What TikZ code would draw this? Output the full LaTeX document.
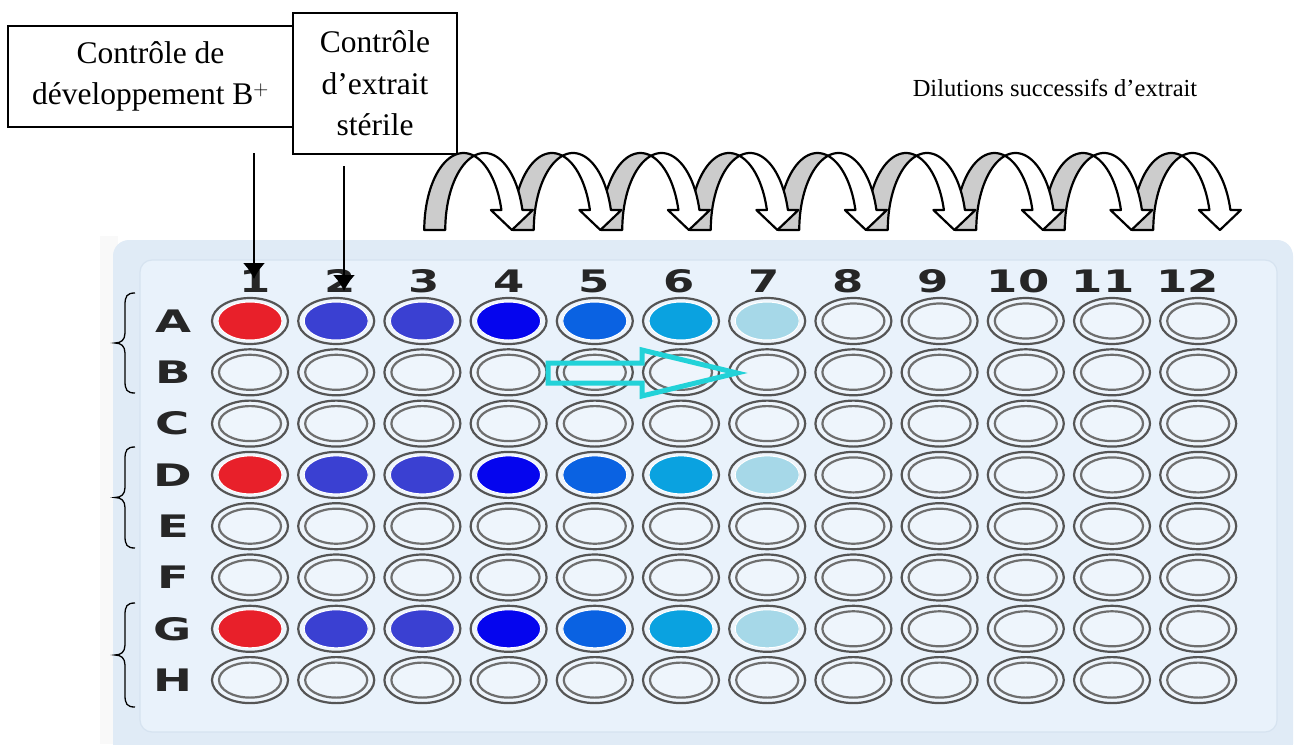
\documentclass[tikz,border=0pt]{standalone}
\usepackage{fontspec}
\setmainfont{Liberation Serif}
\newfontfamily\platefont{DejaVu Sans}
\usetikzlibrary{arrows.meta}
\definecolor{plateout}{HTML}{E0EBF6}
\definecolor{platein}{HTML}{E9F2FB}
\definecolor{plateedge}{HTML}{D6E3F0}
\definecolor{wellfill}{HTML}{EEF5FC}
\definecolor{ringcol}{HTML}{555555}
\definecolor{txtcol}{HTML}{262626}
\definecolor{cyanarrow}{HTML}{22D2D8}
\definecolor{wc1}{HTML}{E8202A}
\definecolor{wc2}{HTML}{3A40D2}
\definecolor{wc3}{HTML}{3A40D2}
\definecolor{wc4}{HTML}{0505EE}
\definecolor{wc5}{HTML}{0A62E2}
\definecolor{wc6}{HTML}{0AA2E0}
\definecolor{wc7}{HTML}{A6D8E8}
\begin{document}
\begin{tikzpicture}[x=1pt,y=-1pt,
  box/.style={draw=black, line width=1.3pt, fill=white, inner sep=0pt, align=center,
    font=\fontsize{31.5}{41.5}\selectfont},
  ptr/.style={-{Latex[length=16pt,width=22pt]}, line width=1.6pt},
  colnum/.style={font=\platefont\bfseries\fontsize{31}{31}\selectfont, text=txtcol, inner sep=0pt},
  rowlet/.style={font=\platefont\bfseries\fontsize{31}{31}\selectfont, text=txtcol, inner sep=0pt},
  ring/.style={draw=ringcol, line width=2.2pt},
  backband/.style={fill=black!20, draw=black, line width=2.2pt, line join=round},
  frontband/.style={fill=white, draw=black, line width=2.2pt, line join=round},
  bracestyle/.style={draw=black, line width=1.3pt},
  dil/.style={font=\fontsize{24.5}{30}\selectfont, inner sep=0pt}
]
\useasboundingbox (0,0) rectangle (1295,744);
\fill[white] (0,0) rectangle (1295,744);

% plate
\fill[black!2.5] (100,236) rectangle (118,744);
\fill[plateout, rounded corners=16pt] (113,240) rectangle (1293,760);
\filldraw[fill=platein, draw=plateedge, line width=1.2pt, rounded corners=12pt] (140,260) rectangle (1277,732);

% column numbers
\foreach \c in {1,...,12}
  \node[colnum] (col\c) at ({255+84.8*(\c-1)},281) {\scalebox{1.45}[1]{\c}};

% row letters and wells
\foreach \L [count=\i from 0] in {A,B,C,D,E,F,G,H}{
  \node[rowlet] (row\L) at (173,{321+51.3*\i}) {\scalebox{1.5}[1]{\L}};
  \foreach \c in {1,...,12}{
    \pgfmathsetmacro\wx{250+86.2*(\c-1)}
    \pgfmathsetmacro\wy{321+51.3*\i}
    \filldraw[ring, fill=wellfill] (\wx,\wy) ellipse [x radius=38, y radius=23];
    \draw[ring, draw=ringcol!85] (\wx,\wy) ellipse [x radius=31, y radius=17.5];
  }
}
% coloured wells (rows A, D, G; columns 1-7)
\foreach \i in {0,3,6}{
  \foreach \c in {1,...,7}{
    \pgfmathsetmacro\wx{250+86.2*(\c-1)}
    \pgfmathsetmacro\wy{321+51.3*\i}
    \filldraw[fill=wc\c, draw=white, line width=1pt] (\wx,\wy) ellipse [x radius=32, y radius=19];
  }
}

% braces
\foreach \t/\b in {293/393, 447/548, 603/707}{
  \pgfmathsetmacro\m{(\t+\b)/2}
  \draw[bracestyle] (135,\t) .. controls (127,\t) and (125,{\t+3}) .. (125,{\t+12})
    -- (125,{\m-10}) .. controls (125,{\m-3}) and (121,\m) .. (115,\m)
    .. controls (121,\m) and (125,{\m+3}) .. (125,{\m+10})
    -- (125,{\b-12}) .. controls (125,{\b-3}) and (127,\b) .. (135,\b);
}

% cyan arrow
\draw[cyanarrow, line width=5pt, line join=miter]
  (548,363) -- (642,363) -- (642,350) -- (737,373) -- (642,396) -- (642,383) -- (548,383) -- cycle;

% dilution arrows: back bands first
\foreach \i in {0,...,8}{
  \pgfmathsetmacro\cA{474+88.5*\i-10.5}
  \pgfmathsetmacro\cB{474+88.5*\i+10.5}
  \filldraw[backband] plot[domain=180:74.5,samples=30] ({\cA+39.25*cos(\x)},{230-77*sin(\x)})
    -- plot[domain=105.5:180,samples=30] ({\cB+39.25*cos(\x)},{230-77*sin(\x)}) -- cycle;
}
\foreach \i in {0,...,8}{
  \pgfmathsetmacro\cA{474+88.5*\i-10.5}
  \pgfmathsetmacro\cB{474+88.5*\i+10.5}
  \pgfmathsetmacro\sA{\cA+39.25*cos(15.05)}
  \pgfmathsetmacro\sB{\cB+39.25*cos(15.05)}
  \filldraw[frontband] plot[domain=105.5:15.05,samples=30] ({\cB+39.25*cos(\x)},{230-77*sin(\x)})
    -- ({\sB+10.5},210) -- ({(\sA+\sB)/2},230) -- ({\sA-10.5},210)
    -- plot[domain=15.05:74.5,samples=30] ({\cA+39.25*cos(\x)},{230-77*sin(\x)}) -- cycle;
}

% boxes
\node[box, minimum width=285pt, minimum height=101pt] (ctrlB) at (150.5,76.5)
  {Contrôle de\\développement B$^{+}$};
\node[box, minimum width=164pt, minimum height=141pt] (ctrlE) at (375,83.5)
  {Contrôle\\d’extrait\\stérile};

\node[dil] (diltxt) at (1055,88) {Dilutions successifs d’extrait};

% pointer arrows
\coordinate (p1s) at (254,153);
\coordinate (p1e) at (254,279);
\coordinate (p2s) at (344,166);
\coordinate (p2e) at (344,291);
\draw[ptr] (p1s) -- (p1e);
\draw[ptr] (p2s) -- (p2e);
\end{tikzpicture}
\end{document}
